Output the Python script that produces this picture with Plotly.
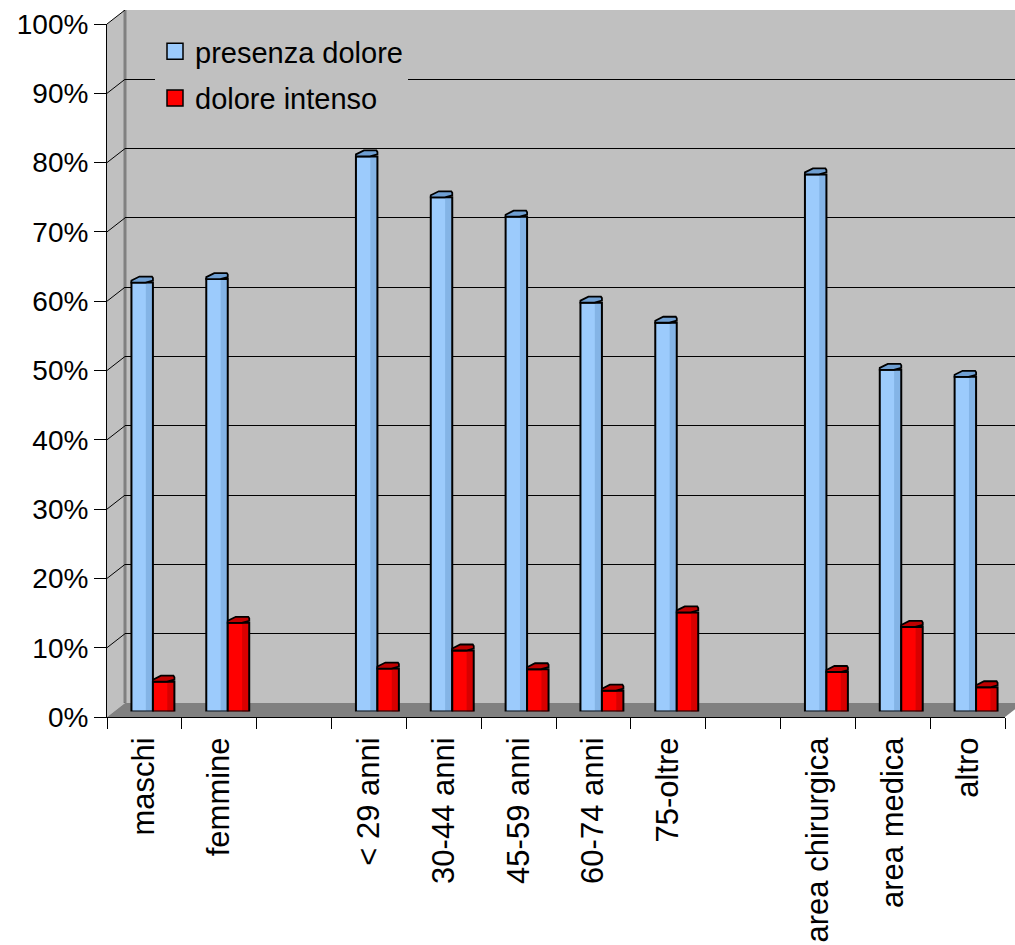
import plotly.graph_objects as go

# ---- data -------------------------------------------------------------
sex_labels = ["maschi", "femmine"]
age_labels = ["< 29 anni", "30-44 anni", "45-59 anni", "60-74 anni", "75-oltre"]
area_labels = ["area chirurgica", "area medica", "altro"]

presenza_sex = [61.9, 62.4]
presenza_age = [80.1, 74.2, 71.4, 59.0, 56.1]
presenza_area = [77.5, 49.3, 48.3]

intenso_sex = [4.3, 12.8]
intenso_age = [6.2, 8.8, 6.1, 3.0, 14.3]
intenso_area = [5.7, 12.2, 3.5]

y_ticks = list(range(0, 101, 10))

# ---- slot positions: one empty slot between groups --------------------
groups = [
    (sex_labels, presenza_sex, intenso_sex),
    (age_labels, presenza_age, intenso_age),
    (area_labels, presenza_area, intenso_area),
]
xs, labels, presenza, intenso = [], [], [], []
pos = 0
for gi, (lab, pres, inten) in enumerate(groups):
    if gi > 0:
        pos += 1
    for l, p, i in zip(lab, pres, inten):
        xs.append(pos)
        labels.append(l)
        presenza.append(p)
        intenso.append(i)
        pos += 1
n_slots = pos
x_range = [-0.5, n_slots - 0.5]
slot_edges = [v - 0.5 for v in range(n_slots + 1)]

# ---- geometry helpers (pixel -> paper) --------------------------------
W, H = 1015, 945
def px(x):
    return x / W
def py(y):
    return 1 - y / H

FRONT_L, FRONT_R, FRONT_B, FRONT_T = 107, 1005, 717, 24
DX, DY = 18, 14            # depth of the 3D box
BAR_DX, BAR_DY = 8.5, 5.5  # bars stand at mid depth
SCALE = (FRONT_B - FRONT_T) / 100.0

FONT = "Arial, Liberation Sans, sans-serif"
WALL = "#c0c0c0"
FLOOR = "#808080"

fig = go.Figure()

# ---- bars (3 layers each: face, shaded side, outline) ----------------
bw = 0.287
strip = 0.095
series = [
    ("presenza dolore", presenza, -bw, "#9ccbfc", "#84b4e6", "#6f9fd2"),
    ("dolore intenso", intenso, 0.0, "#ff0000", "#d80000", "#c00000"),
]
for name, vals, off, face, side, cap in series:
    fig.add_trace(go.Bar(x=xs, y=vals, width=bw, offset=off,
                         marker=dict(color=face, line=dict(width=0)),
                         showlegend=False, hoverinfo="skip",
                         xaxis="x2", yaxis="y2"))
    fig.add_trace(go.Bar(x=xs, y=vals, width=strip, offset=off + bw - strip,
                         marker=dict(color=side, line=dict(width=0)),
                         showlegend=False, hoverinfo="skip",
                         xaxis="x2", yaxis="y2"))
    fig.add_trace(go.Bar(x=xs, y=vals, width=bw, offset=off,
                         marker=dict(color="rgba(0,0,0,0)",
                                     line=dict(color="black", width=2)),
                         showlegend=False, name=name,
                         xaxis="x2", yaxis="y2"))
    # top face of each column
    for x, v in zip(xs, vals):
        fig.add_shape(type="path", xref="x2", yref="y2",
                      xsizemode="pixel", ysizemode="pixel",
                      xanchor=x + off, yanchor=v,
                      path="M0,0 L0,2 L8,6 L20.5,6 L21.5,4.5 L21.5,2 L14,0 Z",
                      fillcolor=cap, line=dict(color="black", width=1.8),
                      layer="above")

# legend entries
for name, vals, off, face, side, cap in series:
    fig.add_trace(go.Scatter(x=[None], y=[None], mode="markers", name=name,
                             legendgroup=name,
                             marker=dict(symbol="square", size=17, color=face,
                                         line=dict(color="black", width=1.5)),
                             xaxis="x2", yaxis="y2"))

# front-axis carrier traces (keep the front axes alive)
fig.add_trace(go.Scatter(x=[None], y=[None], xaxis="x3", yaxis="y3",
                         showlegend=False, hoverinfo="skip"))
fig.add_trace(go.Scatter(x=[None], y=[None], xaxis="x4", yaxis="y3",
                         showlegend=False, hoverinfo="skip"))

# ---- walls and floor --------------------------------------------------
shapes = []
# left side wall
shapes.append(dict(type="path", xref="paper", yref="paper", layer="below",
                   path=f"M{px(FRONT_L)},{py(FRONT_B)} L{px(FRONT_L+DX)},{py(FRONT_B-DY)} "
                        f"L{px(FRONT_L+DX)},{py(FRONT_T-DY)} L{px(FRONT_L)},{py(FRONT_T)} Z",
                   fillcolor=WALL, line=dict(width=0)))
# back wall
shapes.append(dict(type="rect", xref="paper", yref="paper", layer="below",
                   x0=px(FRONT_L+DX), x1=1, y0=py(FRONT_B-DY), y1=py(FRONT_T-DY),
                   fillcolor=WALL, line=dict(width=0)))
# floor
shapes.append(dict(type="path", xref="paper", yref="paper", layer="below",
                   path=f"M{px(FRONT_L)},{py(FRONT_B)} L{px(FRONT_R)},{py(FRONT_B)} "
                        f"L{px(FRONT_R+DX)},{py(FRONT_B-DY)} L{px(FRONT_L+DX)},{py(FRONT_B-DY)} Z",
                   fillcolor=FLOOR, line=dict(width=0)))
# back wall edge
shapes.append(dict(type="line", xref="paper", yref="paper", layer="below",
                   x0=px(FRONT_L+DX), x1=px(FRONT_L+DX),
                   y0=py(FRONT_B-DY), y1=py(FRONT_T-DY),
                   line=dict(color="#808080", width=3)))
# depth lines from front ticks to the back wall
for t in y_ticks:
    shapes.append(dict(type="line", xref="paper", yref="y",
                       x0=px(FRONT_L), x1=px(FRONT_L+DX),
                       y0=t - DY / SCALE, y1=t,
                       line=dict(color="black", width=1), layer="below"))
for s in shapes:
    fig.add_shape(**s)

# ---- axes -------------------------------------------------------------
hidden = dict(visible=False, fixedrange=True, automargin=False)
fig.update_layout(
    width=W, height=H,
    margin=dict(l=0, r=0, t=0, b=0, pad=0, autoexpand=False),
    paper_bgcolor="white",
    plot_bgcolor="rgba(0,0,0,0)",
    barmode="overlay",
    font=dict(family=FONT, size=28, color="black"),
    showlegend=True,
    # back wall grid
    xaxis=dict(domain=[px(FRONT_L+DX), 1], range=x_range, anchor="y", **hidden),
    yaxis=dict(domain=[py(FRONT_B-DY), py(FRONT_T-DY)], range=[0, 100],
               anchor="x", tickmode="array", tickvals=y_ticks[1:], showgrid=True,
               gridcolor="black", gridwidth=1, showticklabels=False,
               ticks="", zeroline=False, showline=False, fixedrange=True,
               automargin=False),
    # bars at mid depth
    xaxis2=dict(domain=[px(FRONT_L+BAR_DX), px(FRONT_R+BAR_DX)], range=x_range,
                anchor="y2", **hidden),
    yaxis2=dict(domain=[py(FRONT_B-BAR_DY), py(FRONT_T-BAR_DY)], range=[0, 100],
                anchor="x2", **hidden),
    # front category axis: slot boundary ticks
    xaxis3=dict(domain=[px(FRONT_L), px(FRONT_R)], range=x_range, anchor="y3",
                tickmode="array", tickvals=slot_edges, showticklabels=False,
                ticks="outside", ticklen=11, tickcolor="black", tickwidth=1,
                showline=True, linecolor="black", linewidth=1,
                showgrid=False, zeroline=False, fixedrange=True,
                automargin=False),
    # front category axis: labels
    xaxis4=dict(domain=[px(FRONT_L), px(FRONT_R)], range=x_range, anchor="y3",
                overlaying="x3",
                tickmode="array", tickvals=xs, ticktext=labels, ticks="outside",
                ticklen=7, tickcolor="rgba(0,0,0,0)",
                tickangle=-90, tickfont=dict(size=31),
                showline=False, showgrid=False, zeroline=False, fixedrange=True,
                automargin=False),
    yaxis3=dict(domain=[py(FRONT_B), py(FRONT_T)], range=[0, 100], anchor="x3",
                tickmode="array", tickvals=y_ticks,
                ticktext=[f"{t}%" for t in y_ticks],
                ticks="outside", ticklen=12, tickcolor="black", tickwidth=1,
                tickfont=dict(size=28),
                showline=True, linecolor="black", linewidth=1,
                showgrid=False, zeroline=False, fixedrange=True,
                automargin=False),
    legend=dict(x=px(155), y=py(26), xanchor="left", yanchor="top",
                bgcolor=WALL, borderwidth=0, font=dict(size=29),
                tracegroupgap=6, itemclick=False, itemdoubleclick=False),
)

fig.write_html("out.html")
